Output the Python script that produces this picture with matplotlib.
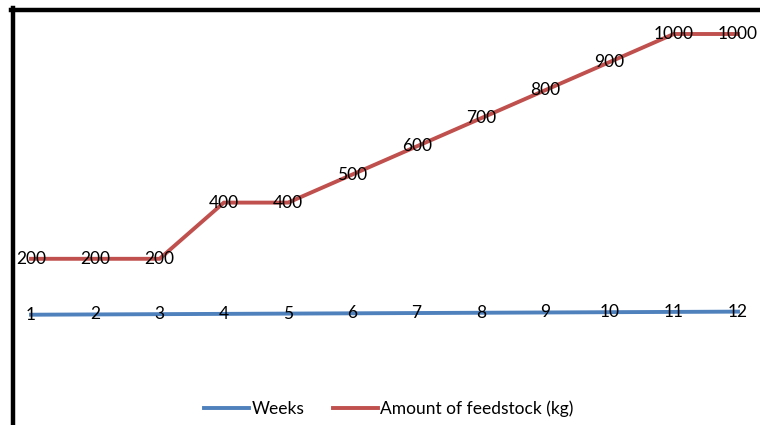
import matplotlib.pyplot as plt
from matplotlib.lines import Line2D

weeks = [1, 2, 3, 4, 5, 6, 7, 8, 9, 10, 11, 12]
feedstock = [200, 200, 200, 400, 400, 500, 600, 700, 800, 900, 1000, 1000]

plt.rcParams['font.family'] = ['Lato', 'DejaVu Sans']

fig = plt.figure(figsize=(7.6, 4.25), dpi=100)
ax = fig.add_axes([31 / 760, 110 / 425, 707 / 760, 281 / 425])

ax.plot(weeks, weeks, color='#4F81BD', linewidth=2.8, label='Weeks', clip_on=False)
ax.plot(weeks, feedstock, color='#C0504D', linewidth=2.8, label='Amount of feedstock (kg)', clip_on=False)

for x, y in zip(weeks, weeks):
    ax.text(x, y, str(y), ha='center', va='center', fontsize=12.5, clip_on=False)
for x, y in zip(weeks, feedstock):
    ax.text(x, y, str(y), ha='center', va='center', fontsize=12.5, clip_on=False)

ax.set_xlim(1, 12)
ax.set_ylim(0, 1000)
ax.axis('off')

fig.legend(loc='center', bbox_to_anchor=(389 / 760, 1 - 409 / 425), ncol=2, frameon=False,
           fontsize=12.5, handlelength=2.6, handletextpad=0.15, columnspacing=1.6)

# black frame on top and left edges
fig.add_artist(Line2D([11 / 760, 1], [1 - 10 / 425, 1 - 10 / 425], color='black', linewidth=3.2,
                      transform=fig.transFigure))
fig.add_artist(Line2D([13 / 760, 13 / 760], [0, 1 - 8 / 425], color='black', linewidth=3.2,
                      transform=fig.transFigure))

fig.savefig('out.png', dpi=100)
